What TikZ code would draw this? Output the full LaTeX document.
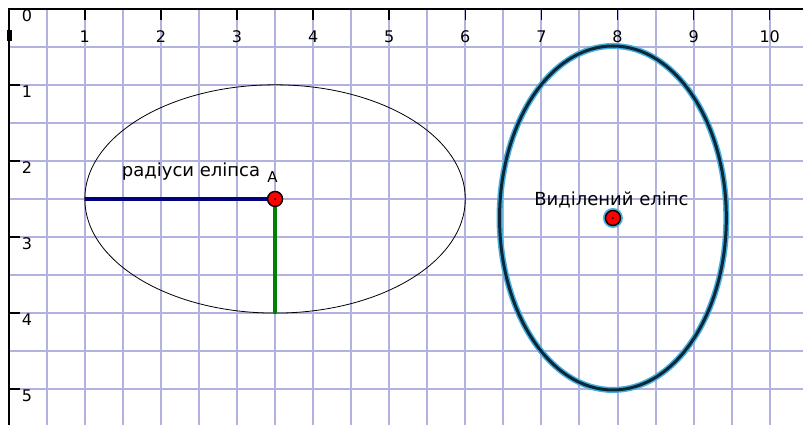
\documentclass[tikz,border=0pt]{standalone}
\usepackage{fontspec}
\setmainfont{DejaVu Sans}
\definecolor{gridblue}{RGB}{178,178,224}
\definecolor{radblue}{RGB}{0,0,128}
\definecolor{radgreen}{RGB}{0,128,0}
\definecolor{selhalo}{RGB}{70,175,222}
\definecolor{selcore}{RGB}{10,40,58}
\begin{document}
\begin{tikzpicture}[x=76.1pt,y=-76.1pt,
  gridline/.style={draw=gridblue,line width=2pt},
  axisnum/.style={font=\fontsize{16}{16}\selectfont,inner sep=0pt},
  lbltext/.style={font=\fontsize{18}{18}\selectfont,inner sep=0pt,anchor=base},
  ptdot/.style={circle,draw=black,fill=red,line width=1.4pt,minimum size=15pt,inner sep=0pt}]
\useasboundingbox (-0.1143,-0.1143) rectangle (10.4375,5.4705);
\fill[white] (-0.1143,-0.1143) rectangle (10.4375,5.4705);

% grid
\foreach \gx in {0.5,1,...,10}
  \draw[gridline] (\gx,0) -- (\gx,5.4705);
\foreach \gy in {0.5,1,...,5}
  \draw[gridline] (0,\gy) -- (10.4375,\gy);

% axes
\node[axisnum,anchor=south] (tx0) at (0.24,0.17) {0};
\draw[line width=2pt] (10.4375,0) -- (0,0) -- (0,5.4705);
\fill (-0.02,0.28) rectangle (0.045,0.42);
\foreach \k in {1,...,10} {
  \draw[line width=1.5pt] (\k,0) -- (\k,0.15);
  \node[axisnum,anchor=north] (tx\k) at (\k,0.29) {\k};
}
\foreach \k in {1,...,5} {
  \draw[line width=1.5pt] (0,\k) -- (0.15,\k);
  \node[axisnum,anchor=north] (ty\k) at (0.24,\k+0.01) {\k};
}

% first ellipse with its radii
\draw[line width=0.8pt] (3.5,2.5) ellipse [x radius=2.5, y radius=1.5];
\coordinate (a0) at (3.5,2.5);
\coordinate (rl) at (1,2.5);
\coordinate (rb) at (3.5,4);
\draw[radblue,line width=3.5pt] (rl) -- (a0);
\draw[radgreen,line width=3.5pt] (a0) -- (rb);
\node[ptdot] (A) at (a0) {};
\fill (A.center) circle (1pt);
\node[font=\fontsize{15}{15}\selectfont,inner sep=0pt,anchor=base] (alabel) at (3.466,2.29) {A};
\node[lbltext] (rlabel) at (2.396,2.21) {радіуси еліпса};

% selected ellipse
\draw[selhalo,line width=6pt] (7.94,2.75) ellipse [x radius=1.49, y radius=2.26];
\draw[selcore,line width=3pt] (7.94,2.75) ellipse [x radius=1.49, y radius=2.26];
\coordinate (c0) at (7.94,2.75);
\fill[selhalo] (c0) circle (10pt);
\node[ptdot] (C) at (c0) {};
\fill (C.center) circle (1pt);
\node[lbltext] (slabel) at (7.92,2.58) {Виділений еліпс};
\end{tikzpicture}
\end{document}
